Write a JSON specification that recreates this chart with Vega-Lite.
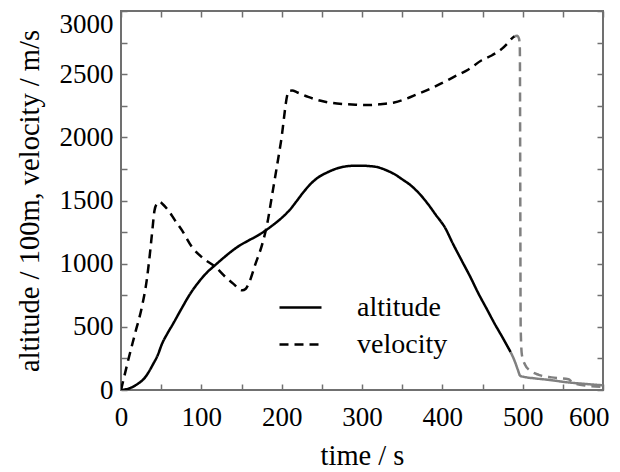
{
  "$schema": "https://vega.github.io/schema/vega-lite/v6.json",
  "width": 482,
  "height": 379,
  "autosize": {"type": "none"},
  "padding": {"left": 121, "top": 11, "right": 17, "bottom": 82},
  "background": "white",
  "config": {
    "font": "Liberation Serif",
    "view": {"stroke": "#707070", "strokeWidth": 2},
    "axis": {
      "domain": false,
      "grid": false,
      "tickColor": "#707070",
      "tickWidth": 1.5,
      "tickSize": -6,
      "labelFont": "Liberation Serif",
      "labelFontSize": 27,
      "labelColor": "black",
      "labelOverlap": false,
      "labelBound": false,
      "titleFont": "Liberation Serif",
      "titleFontSize": 28.5,
      "titleFontWeight": "normal",
      "titleColor": "black"
    }
  },
  "data": {
    "values": [
      {"t":0,"v":0,"s":"altitude","p":"main"},
      {"t":10,"v":12,"s":"altitude","p":"main"},
      {"t":20,"v":45,"s":"altitude","p":"main"},
      {"t":30,"v":100,"s":"altitude","p":"main"},
      {"t":40,"v":205,"s":"altitude","p":"main"},
      {"t":46,"v":280,"s":"altitude","p":"main"},
      {"t":51,"v":365,"s":"altitude","p":"main"},
      {"t":58,"v":450,"s":"altitude","p":"main"},
      {"t":65,"v":526,"s":"altitude","p":"main"},
      {"t":75,"v":640,"s":"altitude","p":"main"},
      {"t":86,"v":760,"s":"altitude","p":"main"},
      {"t":98,"v":865,"s":"altitude","p":"main"},
      {"t":107,"v":930,"s":"altitude","p":"main"},
      {"t":117.5,"v":990,"s":"altitude","p":"main"},
      {"t":128,"v":1048,"s":"altitude","p":"main"},
      {"t":138,"v":1100,"s":"altitude","p":"main"},
      {"t":148,"v":1145,"s":"altitude","p":"main"},
      {"t":159,"v":1184,"s":"altitude","p":"main"},
      {"t":170,"v":1222,"s":"altitude","p":"main"},
      {"t":180,"v":1263,"s":"altitude","p":"main"},
      {"t":190,"v":1310,"s":"altitude","p":"main"},
      {"t":201,"v":1368,"s":"altitude","p":"main"},
      {"t":210,"v":1425,"s":"altitude","p":"main"},
      {"t":218,"v":1490,"s":"altitude","p":"main"},
      {"t":227,"v":1565,"s":"altitude","p":"main"},
      {"t":236,"v":1631,"s":"altitude","p":"main"},
      {"t":246,"v":1685,"s":"altitude","p":"main"},
      {"t":257,"v":1723,"s":"altitude","p":"main"},
      {"t":268,"v":1752,"s":"altitude","p":"main"},
      {"t":278,"v":1768,"s":"altitude","p":"main"},
      {"t":289,"v":1775,"s":"altitude","p":"main"},
      {"t":299,"v":1776,"s":"altitude","p":"main"},
      {"t":310,"v":1772,"s":"altitude","p":"main"},
      {"t":320,"v":1763,"s":"altitude","p":"main"},
      {"t":330,"v":1740,"s":"altitude","p":"main"},
      {"t":340,"v":1710,"s":"altitude","p":"main"},
      {"t":350,"v":1668,"s":"altitude","p":"main"},
      {"t":361,"v":1618,"s":"altitude","p":"main"},
      {"t":372,"v":1550,"s":"altitude","p":"main"},
      {"t":382,"v":1473,"s":"altitude","p":"main"},
      {"t":392,"v":1385,"s":"altitude","p":"main"},
      {"t":403,"v":1289,"s":"altitude","p":"main"},
      {"t":413,"v":1160,"s":"altitude","p":"main"},
      {"t":424,"v":1026,"s":"altitude","p":"main"},
      {"t":435,"v":893,"s":"altitude","p":"main"},
      {"t":445,"v":763,"s":"altitude","p":"main"},
      {"t":455,"v":645,"s":"altitude","p":"main"},
      {"t":465,"v":526,"s":"altitude","p":"main"},
      {"t":475,"v":415,"s":"altitude","p":"main"},
      {"t":485,"v":300,"s":"altitude","p":"main"},
      {"t":485,"v":300,"s":"altitude","p":"tail"},
      {"t":490,"v":230,"s":"altitude","p":"tail"},
      {"t":494,"v":160,"s":"altitude","p":"tail"},
      {"t":497,"v":112,"s":"altitude","p":"tail"},
      {"t":505,"v":100,"s":"altitude","p":"tail"},
      {"t":515,"v":92,"s":"altitude","p":"tail"},
      {"t":530,"v":82,"s":"altitude","p":"tail"},
      {"t":557,"v":60,"s":"altitude","p":"tail"},
      {"t":580,"v":47,"s":"altitude","p":"tail"},
      {"t":600,"v":37,"s":"altitude","p":"tail"},
      {"t":0,"v":0,"s":"velocity","p":"main"},
      {"t":3,"v":79,"s":"velocity","p":"main"},
      {"t":9,"v":237,"s":"velocity","p":"main"},
      {"t":17.5,"v":447,"s":"velocity","p":"main"},
      {"t":26,"v":658,"s":"velocity","p":"main"},
      {"t":32,"v":868,"s":"velocity","p":"main"},
      {"t":36,"v":1079,"s":"velocity","p":"main"},
      {"t":39,"v":1263,"s":"velocity","p":"main"},
      {"t":41.7,"v":1421,"s":"velocity","p":"main"},
      {"t":44.6,"v":1474,"s":"velocity","p":"main"},
      {"t":48,"v":1490,"s":"velocity","p":"main"},
      {"t":52,"v":1470,"s":"velocity","p":"main"},
      {"t":59,"v":1421,"s":"velocity","p":"main"},
      {"t":67,"v":1345,"s":"velocity","p":"main"},
      {"t":76,"v":1263,"s":"velocity","p":"main"},
      {"t":88,"v":1135,"s":"velocity","p":"main"},
      {"t":103,"v":1039,"s":"velocity","p":"main"},
      {"t":117.5,"v":974,"s":"velocity","p":"main"},
      {"t":130,"v":895,"s":"velocity","p":"main"},
      {"t":140,"v":840,"s":"velocity","p":"main"},
      {"t":151,"v":789,"s":"velocity","p":"main"},
      {"t":155,"v":800,"s":"velocity","p":"main"},
      {"t":159,"v":842,"s":"velocity","p":"main"},
      {"t":167.5,"v":1000,"s":"velocity","p":"main"},
      {"t":176,"v":1158,"s":"velocity","p":"main"},
      {"t":182,"v":1316,"s":"velocity","p":"main"},
      {"t":188,"v":1540,"s":"velocity","p":"main"},
      {"t":199,"v":1960,"s":"velocity","p":"main"},
      {"t":209,"v":2368,"s":"velocity","p":"main"},
      {"t":213,"v":2370,"s":"velocity","p":"main"},
      {"t":219.6,"v":2355,"s":"velocity","p":"main"},
      {"t":233,"v":2320,"s":"velocity","p":"main"},
      {"t":248.75,"v":2289,"s":"velocity","p":"main"},
      {"t":263,"v":2272,"s":"velocity","p":"main"},
      {"t":278,"v":2263,"s":"velocity","p":"main"},
      {"t":292,"v":2258,"s":"velocity","p":"main"},
      {"t":307,"v":2255,"s":"velocity","p":"main"},
      {"t":323,"v":2262,"s":"velocity","p":"main"},
      {"t":340,"v":2276,"s":"velocity","p":"main"},
      {"t":355,"v":2305,"s":"velocity","p":"main"},
      {"t":369,"v":2342,"s":"velocity","p":"main"},
      {"t":384,"v":2382,"s":"velocity","p":"main"},
      {"t":398,"v":2425,"s":"velocity","p":"main"},
      {"t":415,"v":2480,"s":"velocity","p":"main"},
      {"t":432,"v":2535,"s":"velocity","p":"main"},
      {"t":449,"v":2610,"s":"velocity","p":"main"},
      {"t":462,"v":2650,"s":"velocity","p":"main"},
      {"t":474,"v":2700,"s":"velocity","p":"main"},
      {"t":482,"v":2750,"s":"velocity","p":"main"},
      {"t":486,"v":2780,"s":"velocity","p":"main"},
      {"t":490,"v":2800,"s":"velocity","p":"main"},
      {"t":490,"v":2800,"s":"velocity","p":"tail"},
      {"t":493,"v":2805,"s":"velocity","p":"tail"},
      {"t":495.5,"v":2780,"s":"velocity","p":"tail"},
      {"t":496.5,"v":2700,"s":"velocity","p":"tail"},
      {"t":497,"v":1600,"s":"velocity","p":"tail"},
      {"t":497.5,"v":500,"s":"velocity","p":"tail"},
      {"t":499,"v":280,"s":"velocity","p":"tail"},
      {"t":503,"v":200,"s":"velocity","p":"tail"},
      {"t":510,"v":150,"s":"velocity","p":"tail"},
      {"t":520,"v":120,"s":"velocity","p":"tail"},
      {"t":536,"v":100,"s":"velocity","p":"tail"},
      {"t":557,"v":85,"s":"velocity","p":"tail"},
      {"t":562,"v":60,"s":"velocity","p":"tail"},
      {"t":578,"v":35,"s":"velocity","p":"tail"},
      {"t":600,"v":26,"s":"velocity","p":"tail"}
    ]
  },
  "layer": [
    {
      "mark": {"type": "line", "strokeWidth": 2.5, "strokeCap": "butt", "clip": true, "interpolate": "monotone"},
      "encoding": {
        "x": {
          "field": "t", "type": "quantitative",
          "scale": {"domain": [0, 600], "nice": false, "zero": false},
          "axis": {
            "orient": "bottom",
            "values": [0,50,100,150,200,250,300,350,400,450,500,550,600],
            "format": "d",
            "labelExpr": "datum.value % 100 === 0 ? datum.label : ''",
            "labelPadding": 20,
            "labelAlign": {"condition": {"test": "datum.value == 600", "value": "right"}, "value": "center"},
            "labelOffset": {"condition": {"test": "datum.value == 600", "value": 6}, "value": 0},
            "title": "time / s",
            "titlePadding": 11
          }
        },
        "y": {
          "field": "v", "type": "quantitative",
          "scale": {"domain": [0, 3000], "nice": false},
          "axis": {
            "orient": "left",
            "values": [0,250,500,750,1000,1250,1500,1750,2000,2250,2500,2750,3000],
            "format": "d",
            "labelExpr": "datum.value % 500 === 0 ? datum.label : ''",
            "labelPadding": 14,
            "labelBaseline": {"condition": {"test": "datum.value == 3000", "value": "top"}, "value": "middle"},
            "title": "altitude / 100m, velocity / m/s",
            "titlePadding": 15
          }
        },
        "color": {
          "field": "p", "type": "nominal",
          "scale": {"domain": ["main", "tail"], "range": ["#000000", "#808080"]},
          "legend": null
        },
        "strokeDash": {
          "field": "s", "type": "nominal",
          "scale": {"domain": ["altitude", "velocity"], "range": [[1, 0], [9, 6]]},
          "legend": {
            "title": null,
            "orient": "none",
            "legendX": 157,
            "legendY": 274,
            "padding": 0,
            "symbolType": "stroke",
            "symbolSize": 1764,
            "symbolStrokeWidth": 2.5,
            "symbolStrokeColor": "black",
            "labelFont": "Liberation Serif",
            "labelFontSize": 28,
            "labelColor": "black",
            "labelOffset": 34,
            "rowPadding": -2
          }
        }
      }
    },
    {
      "mark": {"type": "point", "opacity": 0},
      "encoding": {
        "x": {
          "field": "t", "type": "quantitative",
          "axis": {"orient": "top", "values": [0,50,100,150,200,250,300,350,400,450,500,550,600], "labels": false, "title": null}
        },
        "y": {
          "field": "v", "type": "quantitative",
          "axis": {"orient": "right", "values": [0,250,500,750,1000,1250,1500,1750,2000,2250,2500,2750,3000], "labels": false, "title": null}
        }
      }
    }
  ],
  "resolve": {"axis": {"x": "independent", "y": "independent"}}
}
